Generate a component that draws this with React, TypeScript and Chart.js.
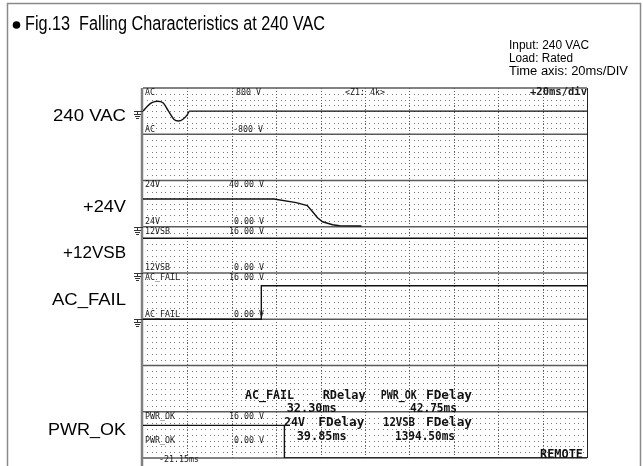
import React, { useEffect, useRef } from "react";
import { Chart, registerables } from "chart.js";
Chart.register(...registerables);

// ---- data (time in ms, values in volts) ----
const timeAC = [0, 2, 4, 6.5, 9, 11.5, 14, 16, 18, 20, 21, 200];
const valAC = [0, 170, 290, 340, 290, 0, -290, -340, -280, -120, 0, 0];
const time24 = [0, 59, 69, 74, 76.4, 78.6, 80.9, 85.4, 88.5, 98.4];
const val24 = [24, 24, 20.9, 18.3, 13, 7.8, 4.3, 1.7, 0.9, 0.6];
const time12 = [0, 200];
const val12 = [12, 12];
const timeACF = [0, 53.3, 53.3, 200];
const valACF = [0, 0, 11.6, 11.6];
const timePOK = [0, 63.7, 63.7, 200];
const valPOK = [11.3, 11.3, 0, 0];

const divTimes = [0, 20, 40, 60, 80, 100, 120, 140, 160, 180, 200];
const zoneEdges = [0, 1, 2, 3, 4, 5, 6, 7, 8];

const toZone = (t: number[], v: number[], base: number, lo: number, hi: number) =>
  t.map((x, i) => ({ x, y: base + (v[i] - lo) / (hi - lo) }));

function fitText(
  ctx: CanvasRenderingContext2D,
  text: string,
  x: number,
  y: number,
  font: string,
  width?: number,
  align: "left" | "right" = "left"
) {
  ctx.save();
  ctx.font = font;
  ctx.textBaseline = "middle";
  ctx.textAlign = "left";
  const w = ctx.measureText(text).width;
  const sx = width ? width / w : 1;
  const x0 = align === "right" ? x - w * sx : x;
  ctx.translate(x0, y);
  ctx.scale(sx, 1);
  ctx.fillText(text, 0, 0);
  ctx.restore();
}

const SANS = "'Liberation Sans', Arial, sans-serif";
const MONO = "'DejaVu Sans Mono', monospace";

const scopePlugin = {
  id: "scope",
  beforeDatasetsDraw(chart: any) {
    const ctx: CanvasRenderingContext2D = chart.ctx;
    const xs = chart.scales.x;
    const ys = chart.scales.y;
    const L = xs.getPixelForValue(0);
    const R = xs.getPixelForValue(200);
    const T = ys.getPixelForValue(8);
    const B = ys.getPixelForValue(0);
    ctx.save();
    ctx.strokeStyle = "#8a8a8a";
    ctx.lineWidth = 1.5;
    ctx.strokeRect(7.5, 3.5, 633, 470);
    ctx.fillStyle = "#000";
    ctx.beginPath();
    ctx.arc(16.5, 25, 3.8, 0, Math.PI * 2);
    ctx.fill();
    fitText(ctx, "Fig.13  Falling Characteristics at 240 VAC", 25, 24, `20px ${SANS}`, 300);
    fitText(ctx, "Input: 240 VAC", 509, 46, `12px ${SANS}`, 80);
    fitText(ctx, "Load: Rated", 509, 59, `12px ${SANS}`, 64);
    fitText(ctx, "Time axis: 20ms/DIV", 509, 72, `12px ${SANS}`, 119);
    const lf = `17px ${SANS}`;
    fitText(ctx, "240 VAC", 126, 116, lf, 73, "right");
    fitText(ctx, "+24V", 126, 207, lf, 43, "right");
    fitText(ctx, "+12VSB", 126, 253, lf, 63, "right");
    fitText(ctx, "AC_FAIL", 126, 300, lf, 74, "right");
    fitText(ctx, "PWR_OK", 126, 430, lf, 78, "right");

    ctx.fillStyle = "#7a7a7a";
    for (let z = 0; z < 8; z++) {
      for (let j = 1; j < 8; j++) {
        const yy = Math.round(ys.getPixelForValue(z + j / 8));
        for (let k = 1; k < 100; k++) {
          const xx = Math.round(xs.getPixelForValue(k * 2));
          ctx.fillRect(xx, yy, 1, 1);
        }
      }
    }
    ctx.strokeStyle = "#5a5a5a";
    ctx.lineWidth = 1;
    ctx.setLineDash([1, 2]);
    divTimes.slice(1, -1).forEach((t) => {
      const xx = Math.round(xs.getPixelForValue(t)) + 0.5;
      ctx.beginPath();
      ctx.moveTo(xx, T);
      ctx.lineTo(xx, B);
      ctx.stroke();
    });
    ctx.setLineDash([]);
    ctx.strokeStyle = "#5a5a5a";
    ctx.lineWidth = 1.5;
    zoneEdges.forEach((z) => {
      const yy = ys.getPixelForValue(z);
      ctx.beginPath();
      ctx.moveTo(L, yy);
      ctx.lineTo(R, yy);
      ctx.stroke();
    });
    ctx.strokeStyle = "#808080";
    ctx.lineWidth = 2.5;
    ctx.beginPath();
    ctx.moveTo(L - 1, T);
    ctx.lineTo(L - 1, 466);
    ctx.stroke();
    ctx.strokeStyle = "#222";
    ctx.lineWidth = 1;
    ctx.beginPath();
    ctx.moveTo(R + 0.5, T);
    ctx.lineTo(R + 0.5, B);
    ctx.stroke();

    ctx.strokeStyle = "#333";
    ctx.lineWidth = 1;
    [7.5, 5, 4, 3].forEach((v) => {
      const yy = Math.round(ys.getPixelForValue(v)) + 0.5;
      ctx.beginPath();
      ctx.moveTo(134, yy);
      ctx.lineTo(L, yy);
      ctx.moveTo(137.5, yy);
      ctx.lineTo(137.5, yy + 3);
      ctx.moveTo(134, yy + 3);
      ctx.lineTo(141, yy + 3);
      ctx.moveTo(135, yy + 5);
      ctx.lineTo(140, yy + 5);
      ctx.moveTo(136, yy + 7);
      ctx.lineTo(139, yy + 7);
      ctx.stroke();
    });
    ctx.restore();
  },
  afterDatasetsDraw(chart: any) {
    const ctx: CanvasRenderingContext2D = chart.ctx;
    const ys = chart.scales.y;
    ctx.save();
    ctx.fillStyle = "#1a1a1a";
    const sf = `9px ${MONO}`;
    const pairs: [string, string, number][] = [
      ["AC", "800 V", ys.getPixelForValue(8) + 4.5],
      ["AC", "-800 V", ys.getPixelForValue(7) - 5],
      ["24V", "40.00 V", ys.getPixelForValue(6) + 4.5],
      ["24V", "0.00 V", ys.getPixelForValue(5) - 5],
      ["12VSB", "16.00 V", ys.getPixelForValue(5) + 4.5],
      ["12VSB", "0.00 V", ys.getPixelForValue(4) - 5],
      ["AC_FAIL", "16.00 V", ys.getPixelForValue(4) + 4.5],
      ["AC_FAIL", "0.00 V", ys.getPixelForValue(3) - 5],
      ["PWR_OK", "16.00 V", ys.getPixelForValue(1) + 4.5],
      ["PWR_OK", "0.00 V", 441],
    ];
    pairs.forEach(([a, b, yy]) => {
      fitText(ctx, a, 145, yy, sf, a.length * 5);
      const bx = b.startsWith("-") ? 233 : b.length === 5 ? 236 : b.length === 6 ? 234 : 229;
      fitText(ctx, b, bx, yy, sf, b.length * 5);
    });
    fitText(ctx, "<Z1: 4k>", 345, 92.5, sf, 40);
    fitText(ctx, "+20ms/div", 530, 92.5, `bold 10px ${MONO}`, 57);
    fitText(ctx, "-21.15ms", 159, 460, sf, 40);
    const mf = `bold 12px ${MONO}`;
    ctx.fillStyle = "#111";
    const words: [string, number, number, number][] = [
      ["AC_FAIL", 245, 396, 49],
      ["RDelay", 322.7, 396, 43],
      ["PWR_OK", 380.7, 396, 36],
      ["FDelay", 426, 396, 46],
      ["32.30ms", 286.7, 409, 50],
      ["42.75ms", 410, 409, 47],
      ["24V", 284, 423, 21],
      ["FDelay", 318.3, 423, 46],
      ["12VSB", 383, 423, 32],
      ["FDelay", 426, 423, 46],
      ["39.85ms", 296.7, 436.5, 50],
      ["1394.50ms", 395, 436.5, 60],
    ];
    words.forEach(([w, x, y, wd]) => fitText(ctx, w, x, y, mf, wd));
    fitText(ctx, "REMOTE", 540, 455, `bold 12px ${MONO}`, 43);
    ctx.restore();
  },
};

export default function App() {
  const ref = useRef<HTMLCanvasElement | null>(null);
  useEffect(() => {
    if (!ref.current) return;
    const line = (data: any[], mono = false) => ({
      data,
      borderColor: "#111",
      borderWidth: 1.4,
      pointRadius: 0,
      tension: mono ? 0.4 : 0,
      cubicInterpolationMode: mono ? ("monotone" as const) : ("default" as const),
      fill: false,
    });
    const chart = new Chart(ref.current, {
      type: "line",
      data: {
        datasets: [
          line(toZone(timeAC, valAC, 7, -800, 800), true),
          line(toZone(time24, val24, 5, 0, 40)),
          line(toZone(time12, val12, 4, 0, 16)),
          line(toZone(timeACF, valACF, 3, 0, 16)),
          line(toZone(timePOK, valPOK, 0, 0, 16)),
        ],
      },
      options: {
        animation: false,
        responsive: false,
        events: [],
        layout: { padding: { left: 143, right: 56, top: 88, bottom: 8 } },
        plugins: { legend: { display: false }, tooltip: { enabled: false }, title: { display: false } },
        scales: {
          x: { type: "linear", min: 0, max: 200, display: false },
          y: { type: "linear", min: 0, max: 8, display: false },
        },
      },
      plugins: [scopePlugin],
    });
    return () => chart.destroy();
  }, []);
  return (
    <div style={{ position: "fixed", left: 0, top: 0, width: 643, height: 466, background: "#fff" }}>
      <canvas ref={ref} width={643} height={466} />
    </div>
  );
}
